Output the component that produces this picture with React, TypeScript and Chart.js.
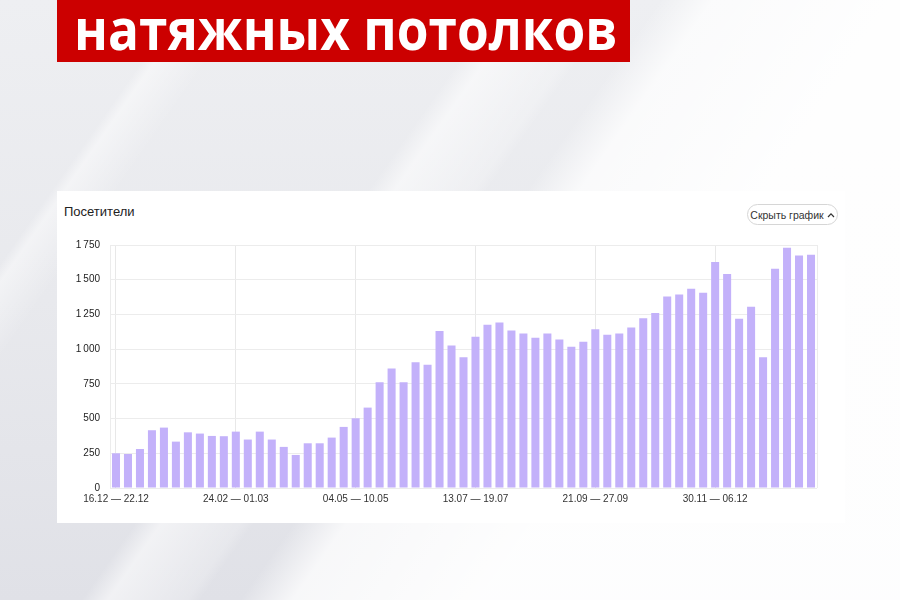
import React, { useEffect, useRef } from "react";
import { Chart, registerables } from "chart.js";

Chart.register(...registerables);

const pageTitle = "натяжных потолков";
const chartTitle = "Посетители";
const buttonText = "Скрыть график";

const weekLabels: string[] = [
  "16.12 — 22.12", "23.12 — 29.12", "30.12 — 05.01", "06.01 — 12.01", "13.01 — 19.01",
  "20.01 — 26.01", "27.01 — 02.02", "03.02 — 09.02", "10.02 — 16.02", "17.02 — 23.02",
  "24.02 — 01.03", "02.03 — 08.03", "09.03 — 15.03", "16.03 — 22.03", "23.03 — 29.03",
  "30.03 — 05.04", "06.04 — 12.04", "13.04 — 19.04", "20.04 — 26.04", "27.04 — 03.05",
  "04.05 — 10.05", "11.05 — 17.05", "18.05 — 24.05", "25.05 — 31.05", "01.06 — 07.06",
  "08.06 — 14.06", "15.06 — 21.06", "22.06 — 28.06", "29.06 — 05.07", "06.07 — 12.07",
  "13.07 — 19.07", "20.07 — 26.07", "27.07 — 02.08", "03.08 — 09.08", "10.08 — 16.08",
  "17.08 — 23.08", "24.08 — 30.08", "31.08 — 06.09", "07.09 — 13.09", "14.09 — 20.09",
  "21.09 — 27.09", "28.09 — 04.10", "05.10 — 11.10", "12.10 — 18.10", "19.10 — 25.10",
  "26.10 — 01.11", "02.11 — 08.11", "09.11 — 15.11", "16.11 — 22.11", "23.11 — 29.11",
  "30.11 — 06.12", "07.12 — 13.12", "14.12 — 20.12", "21.12 — 27.12", "28.12 — 03.01",
  "04.01 — 10.01", "11.01 — 17.01", "18.01 — 24.01", "25.01 — 31.01",
];

const visitors: number[] = [
  250, 245, 281, 416, 435, 334, 401, 392, 375, 373,
  406, 349, 406, 349, 296, 238, 322, 322, 363, 440,
  502, 579, 762, 861, 762, 906, 887, 1130, 1026, 942,
  1089, 1175, 1192, 1135, 1113, 1082, 1113, 1070, 1017, 1053,
  1144, 1103, 1113, 1156, 1223, 1260, 1380, 1394, 1435, 1406,
  1627, 1541, 1219, 1305, 942, 1579, 1731, 1675, 1680,
];

const yTickValues: number[] = [0, 250, 500, 750, 1000, 1250, 1500, 1750];
const labelEvery = 10;

const FONT = "'Liberation Sans', Arial, sans-serif";

function formatNum(v: number): string {
  const s = String(Math.round(v));
  if (s.length <= 3) return s;
  return s.slice(0, s.length - 3) + "\u202F" + s.slice(s.length - 3);
}

const frameRight = {
  id: "frameRight",
  afterDraw(chart: any) {
    const { ctx, chartArea } = chart;
    ctx.save();
    ctx.strokeStyle = "#ececec";
    ctx.lineWidth = 1;
    ctx.beginPath();
    ctx.moveTo(Math.round(chartArea.right) + 0.5, chartArea.top);
    ctx.lineTo(Math.round(chartArea.right) + 0.5, chartArea.bottom);
    ctx.stroke();
    ctx.restore();
  },
};

function VisitorsChart() {
  const ref = useRef<HTMLCanvasElement | null>(null);
  useEffect(() => {
    if (!ref.current) return;
    const chart = new Chart(ref.current, {
      type: "bar",
      data: {
        labels: weekLabels,
        datasets: [
          {
            label: chartTitle,
            data: visitors,
            backgroundColor: "#c3b1fa",
            borderWidth: 0,
            barPercentage: 0.67,
            categoryPercentage: 1,
          },
        ],
      },
      options: {
        animation: false,
        responsive: false,
        maintainAspectRatio: false,
        layout: { padding: { top: 4, right: 13, bottom: 0, left: 0 } },
        plugins: { legend: { display: false }, tooltip: { enabled: false } },
        scales: {
          x: {
            offset: true,
            grid: {
              offset: false,
              drawTicks: false,
              color: (c: any) => (c.index % labelEvery === 0 ? "#e8e8e8" : "rgba(0,0,0,0)"),
            },
            border: { display: false },
            ticks: {
              autoSkip: false,
              maxRotation: 0,
              minRotation: 0,
              padding: 5,
              color: "#333333",
              font: { family: FONT, size: 10 },
              callback: (_v: any, i: number) => (i % labelEvery === 0 ? weekLabels[i] : ""),
            },
            afterFit: (s: any) => {
              s.height = 20;
            },
          },
          y: {
            min: yTickValues[0],
            max: yTickValues[yTickValues.length - 1],
            afterBuildTicks: (s: any) => {
              s.ticks = yTickValues.map((v) => ({ value: v }));
            },
            grid: { drawTicks: false, color: "#ececec" },
            border: { display: true, color: "#ececec" },
            ticks: {
              padding: 10,
              color: "#222222",
              font: { family: FONT, size: 10 },
              callback: (v: any) => formatNum(Number(v)),
            },
            afterFit: (s: any) => {
              s.width = 50;
            },
          },
        },
      },
      plugins: [frameRight],
    });
    return () => chart.destroy();
  }, []);
  return (
    <canvas
      ref={ref}
      width={770}
      height={279}
      style={{ position: "absolute", left: 60, top: 229, width: 770, height: 279 }}
    />
  );
}

export default function App() {
  const bg = [
    "linear-gradient(125deg, rgba(255,255,255,0) 0%, rgba(255,255,255,0) 50%, rgba(255,255,255,0.75) 54%, rgba(255,255,255,0.95) 68%)",
    "linear-gradient(125deg, rgba(255,255,255,0) 38%, rgba(255,255,255,0.55) 40%, rgba(255,255,255,0.2) 46%, rgba(255,255,255,0) 47%)",
    "linear-gradient(125deg, rgba(255,255,255,0) 14%, rgba(255,255,255,0.45) 15%, rgba(255,255,255,0) 19%)",
    "linear-gradient(180deg, #eeeff2 0%, #e8e9ed 50%, #e0e1e7 100%)",
  ].join(", ");
  return (
    <div
      style={{
        position: "fixed",
        left: 0,
        top: 0,
        width: 900,
        height: 600,
        overflow: "hidden",
        background: bg,
        fontFamily: FONT,
      }}
    >
      <div
        style={{
          position: "absolute",
          left: 57,
          top: 0,
          width: 573,
          height: 62,
          background: "#cc0000",
          overflow: "hidden",
        }}
      >
        <div
          style={{
            position: "absolute",
            left: 17,
            top: -3,
            color: "#ffffff",
            fontFamily: "'Open Sans', sans-serif",
            fontWeight: 700,
            fontSize: 58,
            lineHeight: "62px",
            whiteSpace: "nowrap",
            transform: "scaleX(0.885)",
            transformOrigin: "0 0",
          }}
        >
          {pageTitle}
        </div>
      </div>
      <div
        style={{
          position: "absolute",
          left: 57,
          top: 191,
          width: 788,
          height: 332,
          background: "#ffffff",
        }}
      />
      <div
        style={{
          position: "absolute",
          left: 64,
          top: 204,
          fontSize: 13,
          color: "#222222",
          fontFamily: FONT,
        }}
      >
        {chartTitle}
      </div>
      <div
        style={{
          position: "absolute",
          left: 747,
          top: 204,
          width: 89,
          height: 19,
          border: "1px solid #d6d6d6",
          borderRadius: 11,
          boxSizing: "content-box",
          display: "flex",
          alignItems: "center",
          justifyContent: "center",
          fontSize: 10.5,
          color: "#333333",
          fontFamily: FONT,
          whiteSpace: "nowrap",
          gap: 3,
        }}
      >
        <span>{buttonText}</span>
        <svg width="8" height="6" viewBox="0 0 8 6">
          <polyline points="1,5 4,1.8 7,5" fill="none" stroke="#333" strokeWidth="1.2" />
        </svg>
      </div>
      <VisitorsChart />
    </div>
  );
}
